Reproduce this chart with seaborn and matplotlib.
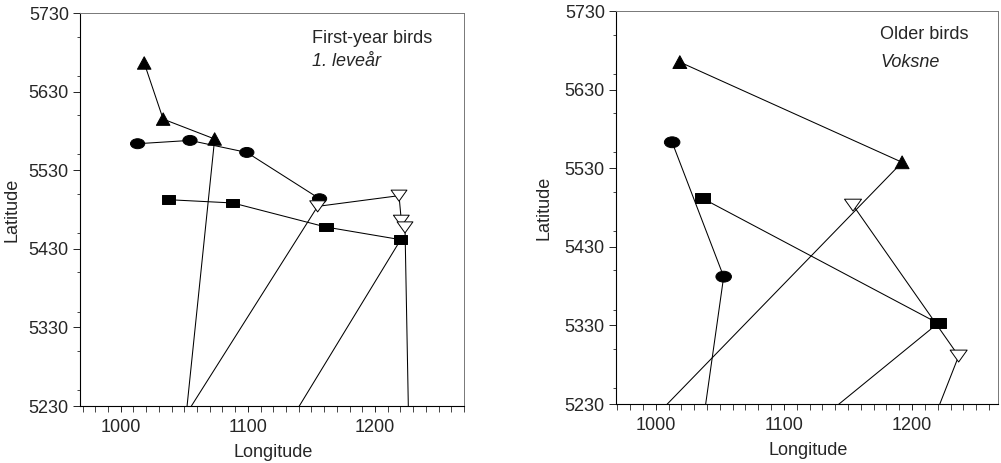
import numpy as np
import pandas as pd
import matplotlib
matplotlib.use("Agg")
import matplotlib.pyplot as plt
import seaborn as sns
from matplotlib.path import Path
from matplotlib.transforms import Affine2D
from matplotlib.ticker import MultipleLocator

# ---------------- data (longitude / latitude) ----------------
# First-year birds (points below 5230 are off-chart continuations)
fy_tri_lon = [1018.5, 1033.4, 1073.9, 1043.9]
fy_tri_lat = [5666.4, 5595.0, 5569.7, 5100.0]
fy_circ_lon = [1013.3, 1054.5, 1099.2, 1156.4]
fy_circ_lat = [5563.7, 5567.9, 5552.6, 5493.7]
fy_sq_lon = [1037.3, 1088.2, 1161.4, 1220.2, 1091.5]
fy_sq_lat = [5492.5, 5488.3, 5457.7, 5441.6, 5100.0]
fy_ot_lon = [1004.8, 1154.9, 1218.9, 1220.7, 1223.6, 1227.7]
fy_ot_lat = [5100.0, 5484.0, 5497.6, 5465.7, 5457.2, 5100.0]

# Older birds
ob_tri_lon = [1018.8, 1192.2, 931.6]
ob_tri_lat = [5665.0, 5537.5, 5100.0]
ob_circ_lon = [1012.8, 1053.0, 1027.7]
ob_circ_lat = [5563.0, 5392.0, 5100.0]
ob_sq_lon = [1036.4, 1220.2, 1045.3]
ob_sq_lat = [5491.7, 5332.7, 5100.0]
ob_ot_lon = [1153.9, 1236.3, 1190.3]
ob_ot_lat = [5483.0, 5291.0, 5100.0]

birds = ["tri", "circ", "sq", "ot"]
titles = [("First-year birds", "1. leveår"), ("Older birds", "Voksne")]
y_ticks = [5230, 5330, 5430, 5530, 5630, 5730]
x_ticks = [1000, 1100, 1200]


def frame(series):
    rows = []
    for bird, lon, lat in series:
        for i, (x, y) in enumerate(zip(lon, lat)):
            rows.append({"bird": bird, "order": i, "lon": x, "lat": y})
    return pd.DataFrame(rows)


df_fy = frame([("tri", fy_tri_lon, fy_tri_lat), ("circ", fy_circ_lon, fy_circ_lat),
               ("sq", fy_sq_lon, fy_sq_lat), ("ot", fy_ot_lon, fy_ot_lat)])
df_ob = frame([("tri", ob_tri_lon, ob_tri_lat), ("circ", ob_circ_lon, ob_circ_lat),
               ("sq", ob_sq_lon, ob_sq_lat), ("ot", ob_ot_lon, ob_ot_lat)])

# ---------------- marker shapes (slightly wide, as in the original) ----------------
tri_up = Path([(0, 0.92), (-1, -0.92), (1, -0.92), (0, 0.92)], closed=True)
tri_down = Path([(-1, 0.7), (1, 0.7), (0, -0.7), (-1, 0.7)], closed=True)
ellipse = Affine2D().scale(1.0, 0.7).transform_path(Path.unit_circle())
rect = Path([(-1, -0.66), (1, -0.66), (1, 0.66), (-1, 0.66), (-1, -0.66)], closed=True)
markers = {"tri": tri_up, "circ": ellipse, "sq": rect, "ot": tri_down}
palette = {"tri": "black", "circ": "black", "sq": "black", "ot": "white"}

sizes_fy = {"tri": 95, "circ": 105, "sq": 90, "ot": 130}
sizes_ob = {"tri": 100, "circ": 125, "sq": 125, "ot": 150}

sns.set_style("ticks")
plt.rcParams["font.family"] = ["Liberation Sans", "DejaVu Sans"]

fig = plt.figure(figsize=(10.01, 4.63), dpi=100)
ax1 = fig.add_axes([80 / 1001, 57 / 463, 384 / 1001, 393 / 463])
ax2 = fig.add_axes([616 / 1001, 59 / 463, 382 / 1001, 393 / 463])

panels = [(ax1, df_fy, sizes_fy, (968, 1270), (0.604, 0.936, 0.876), -0.154),
          (ax2, df_ob, sizes_ob, (969, 1267), (0.691, 0.939, 0.868), -0.165)]

for k, (ax, d, sizes, xlim, tpos, ylab_x) in enumerate(panels):
    sns.lineplot(data=d, x="lon", y="lat", units="bird", estimator=None, sort=False,
                 color="black", linewidth=0.75, legend=False, ax=ax)
    sns.scatterplot(data=d, x="lon", y="lat", hue="bird", palette=palette,
                    style="bird", markers=markers, size="bird", sizes=sizes,
                    edgecolor="black", linewidth=0.7, legend=False, ax=ax, zorder=3)
    ax.set_xlim(*xlim)
    ax.set_ylim(5230, 5730)
    ax.set_yticks(y_ticks)
    ax.set_yticklabels([str(v) for v in y_ticks])
    ax.set_xticks(x_ticks)
    ax.set_xticklabels([str(v) for v in x_ticks])
    ax.xaxis.set_minor_locator(MultipleLocator(10))
    ax.yaxis.set_minor_locator(MultipleLocator(50))
    ax.tick_params(axis="both", which="major", direction="out", labelsize=13,
                   width=0.6, color="black")
    ax.tick_params(axis="y", which="major", length=5, pad=3)
    ax.tick_params(axis="y", which="minor", length=2.2, width=0.6)
    ax.tick_params(axis="x", which="major", length=4.3, pad=5)
    ax.tick_params(axis="x", which="minor", length=4.3, width=0.6)
    for side in ["left", "bottom"]:
        ax.spines[side].set_linewidth(0.8)
        ax.spines[side].set_color("black")
    for side in ["top", "right"]:
        ax.spines[side].set_linewidth(0.7)
        ax.spines[side].set_color("#777777")
    ax.set_xlabel("Longitude", fontsize=13)
    ax.set_ylabel("Latitude", fontsize=13)
    ax.xaxis.set_label_coords(0.502, -0.097)
    ax.yaxis.set_label_coords(ylab_x, 0.5)
    ax.text(tpos[0], tpos[1], titles[k][0], transform=ax.transAxes, fontsize=13,
            ha="left", va="center")
    ax.text(tpos[0], tpos[2], titles[k][1], transform=ax.transAxes, fontsize=13,
            ha="left", va="center", style="italic")

fig.savefig("out.png", dpi=100)
